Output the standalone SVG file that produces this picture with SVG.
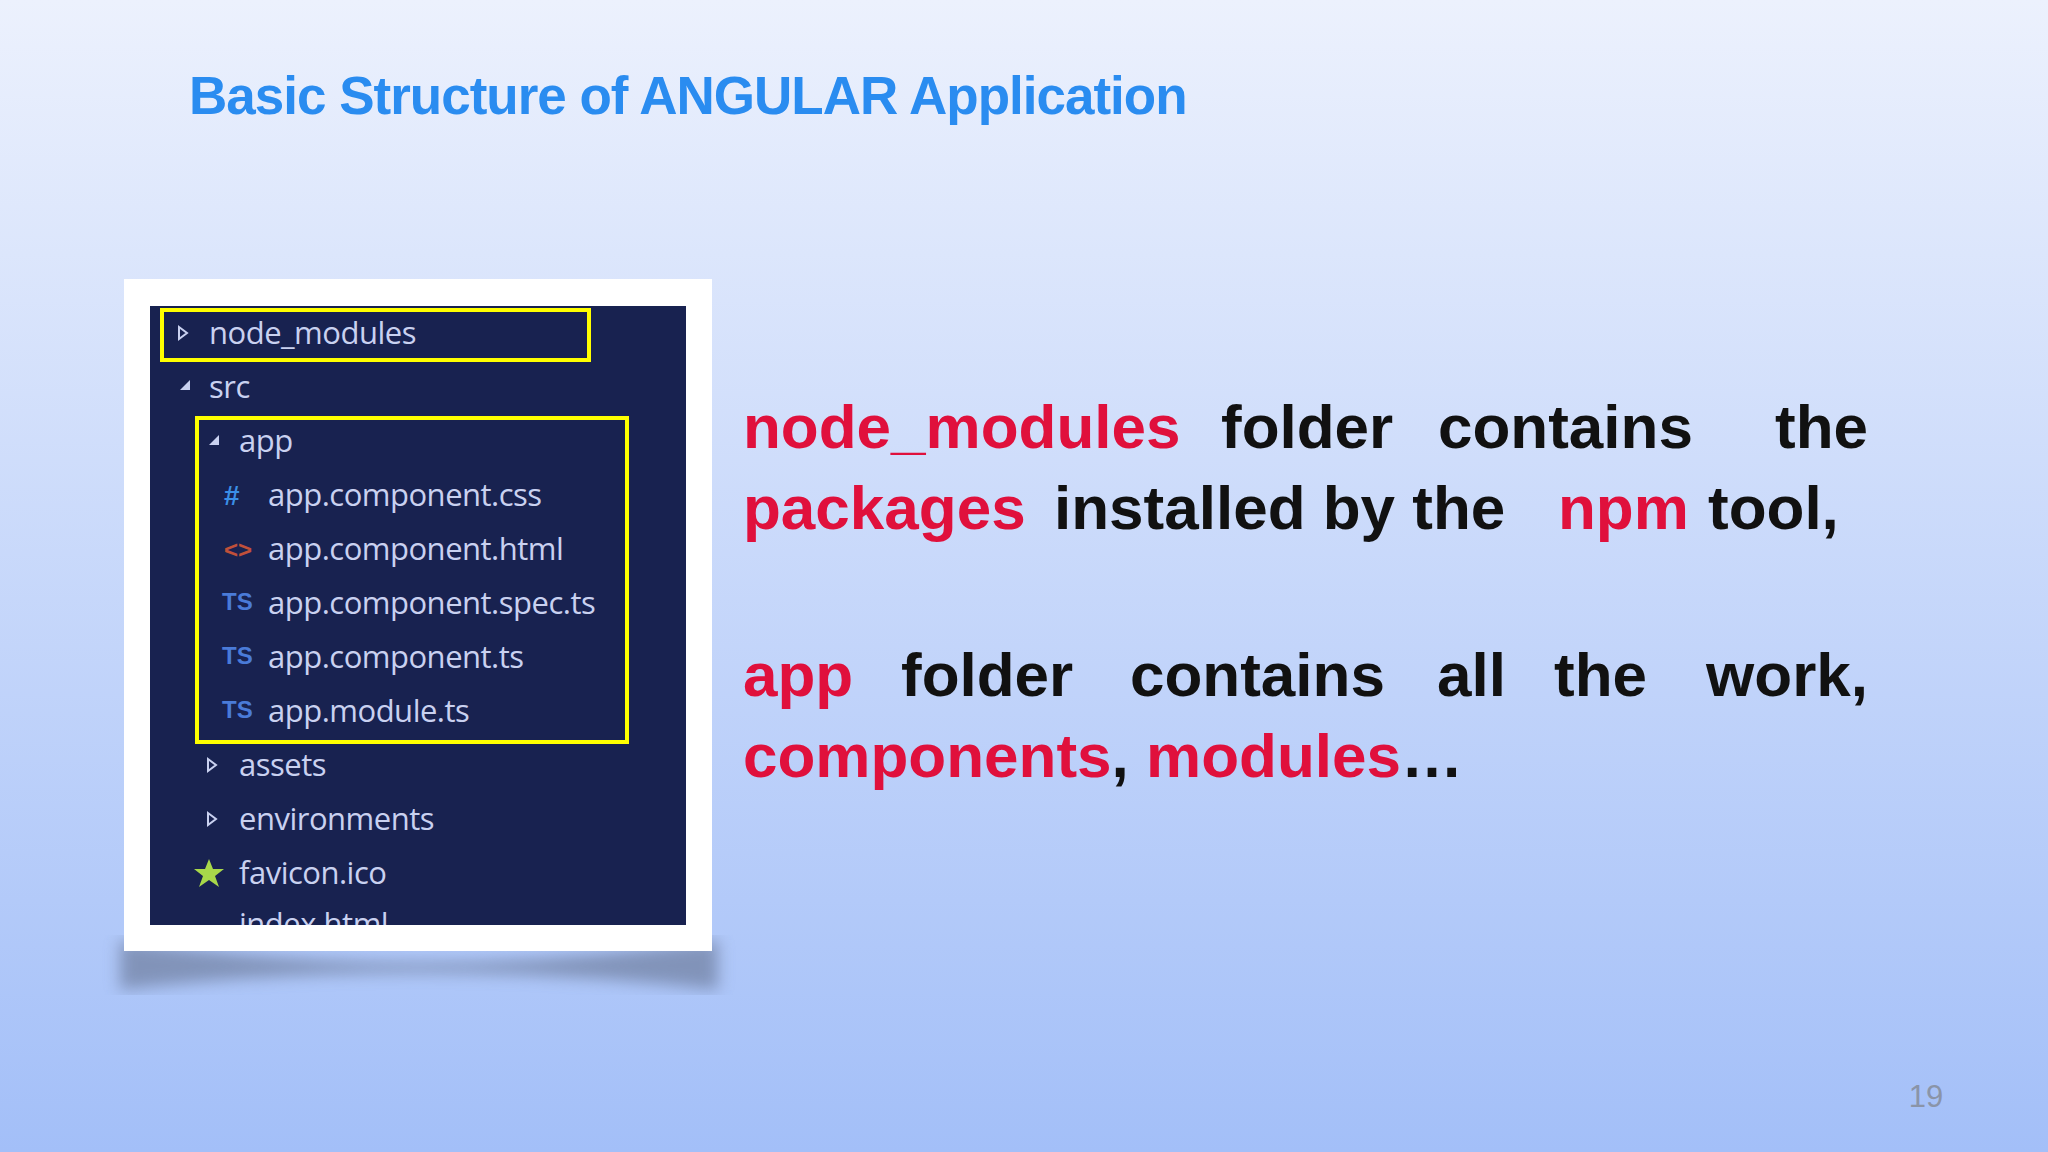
<svg xmlns="http://www.w3.org/2000/svg" width="2048" height="1152" viewBox="0 0 2048 1152">
<defs>
<linearGradient id="bg" x1="0" y1="0" x2="0" y2="1"><stop offset="0" stop-color="#ecf1fd"/><stop offset="1" stop-color="#a3bff8"/></linearGradient>
<filter id="blur"><feGaussianBlur stdDeviation="8"/></filter>
<style>
.t{font-family:"Open Sans","DejaVu Sans",sans-serif;font-size:31px;fill:#c9d1f0;letter-spacing:-0.5px}
.b{font-family:"Liberation Sans",Arial,sans-serif;font-weight:bold;font-size:62px;fill:#111}
.r{fill:#e0103c}
.y{fill:none;stroke:#ffff00;stroke-width:4}
</style>
</defs>
<rect width="2048" height="1152" fill="url(#bg)"/>
<text x="189" y="114" font-family="Liberation Sans,Arial,sans-serif" font-weight="bold" font-size="53" fill="#2a8cf0" letter-spacing="-1">Basic Structure of ANGULAR Application</text>
<g id="screenshot">
<path d="M120 940 Q418 985 718 940 L718 990 Q418 955 120 990 Z" fill="#55607a" opacity="0.5" filter="url(#blur)"/>
<rect x="124" y="279" width="588" height="672" fill="#fff"/>
<rect x="150" y="306" width="536" height="619" fill="#182250"/>
<rect class="y" x="162" y="310" width="427" height="50"/>
<rect class="y" x="197" y="418" width="430" height="324"/>
<path d="M179 327 L187 333 L179 339 Z" fill="none" stroke="#c9d1f0" stroke-width="2"/>
<text class="t" x="209" y="344">node_modules</text>
<path d="M190 380 L190 390 L180 390 Z" fill="#c9d1f0"/>
<text class="t" x="209" y="398">src</text>
<path d="M219 435 L219 445 L209 445 Z" fill="#c9d1f0"/>
<text class="t" x="239" y="452">app</text>
<text x="224" y="505" font-family="Liberation Sans,sans-serif" font-weight="bold" font-size="28" fill="#3b8fe6">#</text>
<text x="224" y="558" font-family="Liberation Sans,sans-serif" font-weight="bold" font-size="24" fill="#c0503a">&lt;&gt;</text>
<text x="222" y="610" font-family="Liberation Sans,sans-serif" font-weight="bold" font-size="24" fill="#4a7bd8">TS</text>
<text x="222" y="664" font-family="Liberation Sans,sans-serif" font-weight="bold" font-size="24" fill="#4a7bd8">TS</text>
<text x="222" y="718" font-family="Liberation Sans,sans-serif" font-weight="bold" font-size="24" fill="#4a7bd8">TS</text>
<text class="t" x="268" y="506">app.component.css</text>
<text class="t" x="268" y="560">app.component.html</text>
<text class="t" x="268" y="614">app.component.spec.ts</text>
<text class="t" x="268" y="668">app.component.ts</text>
<text class="t" x="268" y="722">app.module.ts</text>
<path d="M208 759 L216 765 L208 771 Z" fill="none" stroke="#c9d1f0" stroke-width="2"/>
<text class="t" x="239" y="776">assets</text>
<path d="M208 813 L216 819 L208 825 Z" fill="none" stroke="#c9d1f0" stroke-width="2"/>
<text class="t" x="239" y="830">environments</text>
<path d="M209 859 L213 869 L224 869 L215 876 L219 887 L209 880 L199 887 L203 876 L194 869 L205 869 Z" fill="#a8d84a"/>
<text class="t" x="239" y="884">favicon.ico</text>
<svg x="150" y="306" width="536" height="619" overflow="hidden"><text class="t" x="89" y="629">index.html</text></svg>
</g>
<g id="text">
<text class="b r" x="743" y="448">node_modules</text>
<text class="b" x="1221" y="448">folder</text>
<text class="b" x="1438" y="448">contains</text>
<text class="b" x="1868" y="448" text-anchor="end">the</text>
<text class="b r" x="743" y="529">packages</text>
<text class="b" x="1054" y="529">installed by the</text>
<text class="b r" x="1558" y="529">npm</text>
<text class="b" x="1708" y="529">tool,</text>
<text class="b r" x="743" y="696">app</text>
<text class="b" x="901" y="696">folder</text>
<text class="b" x="1130" y="696">contains</text>
<text class="b" x="1437" y="696">all</text>
<text class="b" x="1554" y="696">the</text>
<text class="b" x="1868" y="696" text-anchor="end">work,</text>
<text class="b" x="743" y="777"><tspan class="r">components</tspan>, <tspan class="r">modules</tspan>…</text>
</g>
<text x="1926" y="1107" text-anchor="middle" font-family="Liberation Sans,sans-serif" font-size="31" fill="#8a94a8">19</text>
</svg>
